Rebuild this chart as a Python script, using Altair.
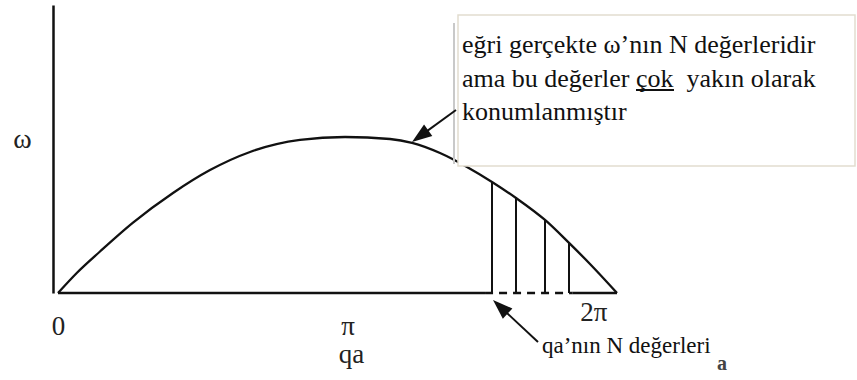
import numpy as np
import pandas as pd
import altair as alt

PI = np.pi

# Dispersion branch ω(qa) of the chain, ω normalised to its maximum
qa_curve = [0.0, 0.2136, 0.4721, 0.8431, 1.2926, 1.7085, 2.1581, 2.7201, 3.2259,
            3.7317, 3.9790, 4.2937, 4.5972, 4.8782, 5.1480, 5.4740, 5.7438,
            5.9798, 2 * PI]
omega_curve = [0.0, 0.130, 0.266, 0.451, 0.641, 0.788, 0.904, 0.981, 1.0,
               0.987, 0.962, 0.897, 0.808, 0.712, 0.609, 0.468, 0.321,
               0.186, 0.0]

# A few of the N allowed qa values, drawn as drop lines under the curve
qa_modes = [4.8782, 5.1480, 5.4740, 5.7438]
omega_modes = [0.712, 0.609, 0.468, 0.321]

# Stretch of the qa axis drawn dashed (where the allowed values sit)
dashed_from, dashed_to = 4.80, 5.78

tick_values = [0.0, PI, 2 * PI]
tick_labels = ["0", "π", "2π"]

note_lines = ["eğri gerçekte ω’nın N değerleridir",
              "ama bu değerler çok\u00a0 yakın olarak",
              "konumlanmıştır"]
mode_label = "qa’nın N değerleri"

# ---------------------------------------------------------------- layout
W, H = 564, 288
PAD = {"left": 53, "top": 5, "right": 240, "bottom": 87}


def px(x):
    return x - PAD["left"]


def py(y):
    return y - PAD["top"]


SERIF = "Liberation Serif"
INK = "#111111"

xs = alt.Scale(domain=[-0.0562, 2 * PI], nice=False, zero=False)
ys = alt.Scale(domain=[0, 1.846], nice=False, zero=False)

label_expr = " : ".join(
    f"abs(datum.value - {v}) < 0.01 ? '{t}'" for v, t in zip(tick_values, tick_labels)
) + " : ''"

x_axis = alt.Axis(
    values=tick_values, labelExpr=label_expr, domain=False, ticks=False, grid=False,
    labelFont=SERIF, labelFontSize=27, labelColor="#222222",
    labelPadding={"condition": {"test": "datum.value > 6", "value": 6}, "value": 20},
    labelOffset={"condition": [{"test": "datum.value > 6", "value": -10},
                               {"test": "datum.value > 3", "value": 10}], "value": 0},
    title="qa", titleFont=SERIF, titleFontSize=27, titleFontWeight="normal",
    titleColor="#222222", titleX=298, titleY=69, titleAlign="center",
    titleBaseline="alphabetic",
)
y_axis = alt.Axis(
    domain=True, domainColor=INK, domainWidth=2.5, ticks=False, labels=False, grid=False,
    title="ω", titleFont=SERIF, titleFontSize=28, titleFontWeight="normal",
    titleColor="#222222", titleAngle=0, titleX=-31, titleY=142, titleAlign="center",
    titleBaseline="alphabetic",
)

df_curve = pd.DataFrame({"qa": qa_curve, "omega": omega_curve})
df_modes = pd.DataFrame({"qa": qa_modes, "omega": omega_modes})
one = pd.DataFrame({"k": [0]})

curve = alt.Chart(df_curve).mark_line(
    interpolate="monotone", color=INK, strokeWidth=2.3
).encode(
    x=alt.X("qa:Q", scale=xs, axis=x_axis),
    y=alt.Y("omega:Q", scale=ys, axis=y_axis),
)

modes = alt.Chart(df_modes).mark_rule(color=INK, strokeWidth=2).encode(
    x=alt.X("qa:Q", scale=xs, axis=x_axis),
    y=alt.Y("omega:Q", scale=ys, axis=y_axis),
    y2=alt.datum(0),
)


def baseline(x0, x1, dash=None):
    kw = {"color": INK, "strokeWidth": 2.5}
    if dash:
        kw["strokeDash"] = dash
    return alt.Chart(one).mark_rule(**kw).encode(
        x=alt.X(datum=x0, scale=xs, axis=x_axis),
        x2=alt.datum(x1),
        y=alt.Y(datum=0, scale=ys, axis=y_axis),
    )


axis_solid_a = baseline(0.0, dashed_from)
axis_dashed = baseline(dashed_from, dashed_to, dash=[8, 6])
axis_solid_b = baseline(dashed_to, 2 * PI)

# annotation box
box = alt.Chart(one).mark_rect(fill="white", stroke="#e2ddd0", strokeWidth=1.5).encode(
    x=alt.value(px(458)), x2=alt.value(px(855)),
    y=alt.value(py(15)), y2=alt.value(py(166)),
)
box_shadow = alt.Chart(one).mark_rule(color="#c9c9c9", strokeWidth=2).encode(
    x=alt.value(px(454)), y=alt.value(py(23)), y2=alt.value(py(164)),
)
note = alt.Chart(one).mark_text(
    text=note_lines, align="left", baseline="alphabetic", font=SERIF,
    fontSize=26, lineHeight=33.5, color=INK,
).encode(x=alt.value(px(462)), y=alt.value(py(53)))
underline = alt.Chart(one).mark_rule(color=INK, strokeWidth=2).encode(
    x=alt.value(px(636)), x2=alt.value(px(674)), y=alt.value(py(90)),
)

# arrows: shaft + filled head (custom symbol, tip at its top)
HEAD = "M0,-1L-0.7,1L0.7,1Z"


def arrow(tail, tip):
    dx, dy = tip[0] - tail[0], tip[1] - tail[1]
    L = float(np.hypot(dx, dy))
    ux, uy = dx / L, dy / L
    ang = float(np.degrees(np.arctan2(ux, -uy))) % 360
    cx, cy = tip[0] - ux * 10, tip[1] - uy * 10
    shaft = alt.Chart(one).mark_rule(color=INK, strokeWidth=2).encode(
        x=alt.value(px(tail[0])), y=alt.value(py(tail[1])),
        x2=alt.value(px(cx)), y2=alt.value(py(cy)),
    )
    head = alt.Chart(one).mark_point(
        shape=HEAD, size=400, filled=True, opacity=1, color=INK, angle=ang, strokeWidth=0,
    ).encode(x=alt.value(px(cx)), y=alt.value(py(cy)))
    return shaft + head


arrow_curve = arrow((456, 110), (412, 142))
arrow_modes = arrow((538, 342), (493, 300))

modes_text = alt.Chart(one).mark_text(
    text=mode_label, align="left", baseline="alphabetic", font=SERIF,
    fontSize=23, color=INK,
).encode(x=alt.value(px(542)), y=alt.value(py(353)))
stray = alt.Chart(one).mark_text(
    text="a", align="center", baseline="alphabetic", font=SERIF,
    fontSize=20, fontWeight="bold", color="#444444",
).encode(x=alt.value(px(722)), y=alt.value(py(370)))

chart = alt.layer(
    curve, modes, axis_solid_a, axis_dashed, axis_solid_b,
    box, box_shadow, note, underline,
    arrow_curve, arrow_modes, modes_text, stray,
).properties(
    width=W, height=H, padding=PAD, autosize=alt.AutoSizeParams(type="none"),
    background="white",
).configure_view(stroke=None)

chart.save("out.html", embed_options={"renderer": "svg", "actions": False})
